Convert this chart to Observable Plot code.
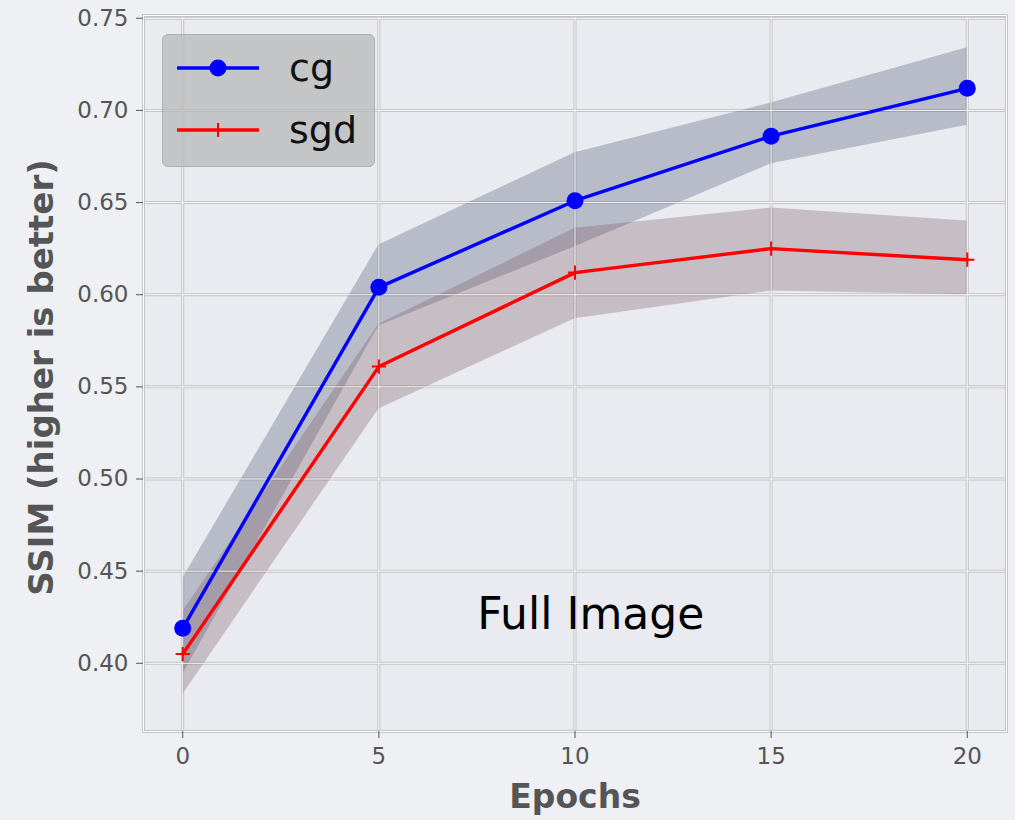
<!DOCTYPE html>
<html><head><meta charset="utf-8">
<script src="https://cdn.jsdelivr.net/npm/d3@7"></script>
<script src="https://cdn.jsdelivr.net/npm/@observablehq/plot@0.6"></script>
<style>
body{margin:0;background:#eef0f4;font-family:"DejaVu Sans",sans-serif;}
#wrap{position:relative;width:1015px;height:820px;overflow:hidden;}
#legend{position:absolute;left:162px;top:34px;width:213px;height:133px;background:rgba(188,188,188,0.82);border:1px solid #b0b0b0;border-radius:6px;box-sizing:border-box;}
#legend svg{position:absolute;left:0;top:0;}
</style></head><body><div id="wrap"></div>
<script>
const epochs = [0, 5, 10, 15, 20];
const cgMean = [0.419, 0.604, 0.651, 0.686, 0.712];
const cgLow  = [0.394, 0.583, 0.626, 0.671, 0.692];
const cgHigh = [0.446, 0.627, 0.677, 0.704, 0.734];
const sgdMean = [0.405, 0.561, 0.612, 0.625, 0.619];
const sgdLow  = [0.383, 0.538, 0.587, 0.602, 0.600];
const sgdHigh = [0.428, 0.584, 0.636, 0.647, 0.640];
const xTicks = [0, 5, 10, 15, 20];
const yTicks = [0.40, 0.45, 0.50, 0.55, 0.60, 0.65, 0.70, 0.75];
const seriesNames = ["cg", "sgd"];
const annotation = {text: "Full Image", epoch: 10.4, ssim: 0.4265};

const rows = epochs.map((e, i) => ({
  epoch: e, cg: cgMean[i], cgLow: cgLow[i], cgHigh: cgHigh[i],
  sgd: sgdMean[i], sgdLow: sgdLow[i], sgdHigh: sgdHigh[i]
}));

const plusSymbol = {
  draw(ctx, size) {
    const r = Math.sqrt(size) / 2;
    ctx.moveTo(-r, 0); ctx.lineTo(r, 0);
    ctx.moveTo(0, -r); ctx.lineTo(0, r);
  }
};

const chart = Plot.plot({
  width: 1015, height: 820,
  marginLeft: 143, marginRight: 9, marginTop: 15, marginBottom: 89,
  style: {background: "transparent", fontFamily: "DejaVu Sans", fontSize: "23px", color: "#555"},
  x: {domain: [-1, 21]},
  y: {domain: [0.363, 0.7515]},
  marks: [
    Plot.frame({fill: "#e9ebf0"}),
    Plot.gridX(xTicks, {stroke: "#c4c4c4", strokeOpacity: 1, strokeWidth: 3}),
    Plot.gridY(yTicks, {stroke: "#c4c4c4", strokeOpacity: 1, strokeWidth: 3}),
    Plot.areaY(rows, {x: "epoch", y1: "cgLow", y2: "cgHigh", fill: "#505672", fillOpacity: 0.32}),
    Plot.areaY(rows, {x: "epoch", y1: "sgdLow", y2: "sgdHigh", fill: "#7a5562", fillOpacity: 0.3}),
    Plot.gridX(xTicks, {stroke: "#ffffff", strokeOpacity: 0.9, strokeWidth: 1}),
    Plot.gridY(yTicks, {stroke: "#ffffff", strokeOpacity: 0.9, strokeWidth: 1}),
    Plot.frame({stroke: "#c4c4c4", strokeWidth: 3}),
    Plot.frame({stroke: "#ffffff", strokeWidth: 1}),
    Plot.axisX(xTicks, {tickSize: 7, tickPadding: 9, label: null, stroke: "#555", fill: "#555"}),
    Plot.axisY(yTicks, {tickSize: 7, tickPadding: 8, label: null, tickFormat: d3.format(".2f"), stroke: "#555", fill: "#555"}),
    Plot.lineY(rows, {x: "epoch", y: "cg", stroke: "#0000ff", strokeWidth: 3.4}),
    Plot.dot(rows, {x: "epoch", y: "cg", r: 8.5, fill: "#0000ff"}),
    Plot.lineY(rows, {x: "epoch", y: "sgd", stroke: "#ff0000", strokeWidth: 3.4}),
    Plot.dot(rows, {x: "epoch", y: "sgd", r: 8, symbol: plusSymbol, stroke: "#ff0000", strokeWidth: 2, fill: "none"}),
    Plot.text([annotation], {x: "epoch", y: "ssim", text: "text", fontSize: 44, fill: "#000", textAnchor: "middle"}),
    Plot.text(["Epochs"], {frameAnchor: "bottom", dy: 76, fontSize: 33, fontWeight: "bold", fill: "#555"}),
    Plot.text(["SSIM (higher is better)"], {frameAnchor: "left", textAnchor: "middle", dx: -101, dy: 4, rotate: -90, fontSize: 34, fontWeight: "bold", fill: "#555"})
  ]
});
const wrap = document.getElementById("wrap");
wrap.appendChild(chart);

// legend
const legend = document.createElement("div");
legend.id = "legend";
const colors = ["#0000ff", "#ff0000"];
let svg = `<svg width="213" height="133" xmlns="http://www.w3.org/2000/svg">`;
seriesNames.forEach((name, i) => {
  const y = 33 + i * 62;
  svg += `<line x1="14" x2="96" y1="${y}" y2="${y}" stroke="${colors[i]}" stroke-width="3.4"/>`;
  if (i === 0) svg += `<circle cx="55" cy="${y}" r="8.5" fill="${colors[i]}"/>`;
  else svg += `<path d="M48,${y}H62M55,${y-7}V${y+7}" stroke="${colors[i]}" stroke-width="2"/>`;
  svg += `<text x="126" y="${y}" dy="0.35em" font-family="DejaVu Sans" font-size="38" fill="#111">${name}</text>`;
});
svg += `</svg>`;
legend.innerHTML = svg;
wrap.appendChild(legend);
</script>
</body></html>
